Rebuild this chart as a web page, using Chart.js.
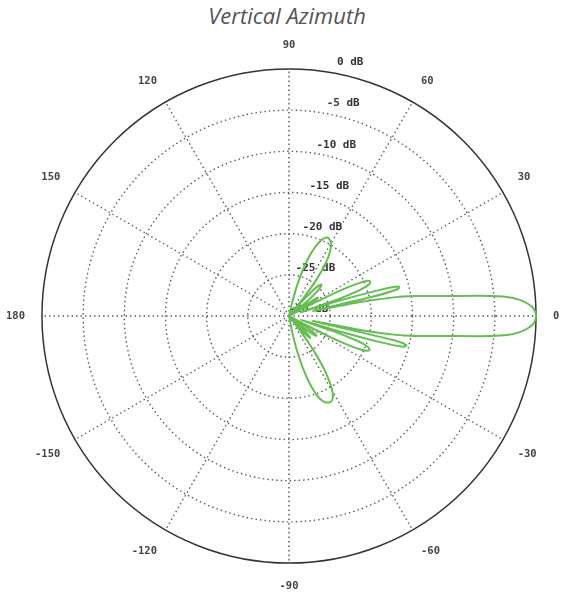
<!DOCTYPE html>
<html>
<head>
<meta charset="utf-8">
<title>Vertical Azimuth</title>
<script src="https://cdn.jsdelivr.net/npm/chart.js@4.4.1/dist/chart.umd.min.js"></script>
<style>
  html, body { margin: 0; padding: 0; background: #fff; }
  #grafico-titulo {
    height: 31px; line-height: 31px;
    padding-left: 8px; box-sizing: border-box;
    font-family: 'Open Sans', sans-serif; font-style: italic; font-size: 22px;
    color: #555; text-align: center;
  }
  #wrap { width: 566px; height: 572px; }
</style>
</head>
<body>
<div id="grafico-titulo">Vertical Azimuth</div>
<div id="wrap"><canvas id="grafico" width="566" height="572"></canvas></div>
<script>
// === DADOS ===
// ângulo em graus (0 = direita, sentido anti-horário), um ponto por grau
const angulos = Array.from({ length: 360 }, (_, i) => i);

// ganho em dB para cada ângulo de 0 a 359
const ganhoDb = [
  // 0-9: lóbulo principal
  0, -0.1, -0.4, -1.0, -1.9, -3.4, -6.6, -10.1, -12.6, -14.5,
  // 10-19
  -16.8, -21, -27, -19.5, -16.3, -16.2, -18.5, -24, -28.5, -23.5,
  // 20-29
  -21, -19.9, -19.4, -19.3, -19.5, -20.4, -22, -24.6, -28, -30,
  // 30-39
  -28, -26.5, -25.8, -26.3, -28, -30, -30, -30, -29, -27.5,
  // 40-49
  -26.3, -25.5, -25, -24.7, -24.5, -24.6, -25, -25.8, -27.2, -29,
  // 50-59
  -30, -28, -26, -24.5, -23.3, -22.4, -21.6, -21, -20.5, -20.1,
  // 60-69
  -19.8, -19.6, -19.5, -19.4, -19.4, -19.5, -19.7, -20, -20.4, -20.9,
  // 70-79
  -21.5, -22.2, -23, -23.9, -24.9, -26, -27.2, -28.5, -30, -30,
  // 80-89
  -30, -30, -30, -30, -30, -30, -30, -30, -30, -30,
  // 90-179: parte de trás
  -30, -30, -30, -30, -30, -30, -30, -30, -30, -30,
  -30, -30, -30, -30, -30, -30, -30, -30, -30, -30,
  -30, -30, -30, -30, -30, -30, -30, -30, -30, -30,
  -30, -30, -30, -30, -30, -30, -30, -30, -30, -30,
  -30, -30, -30, -30, -30, -30, -30, -30, -30, -30,
  -30, -30, -30, -30, -30, -30, -30, -30, -30, -30,
  -30, -30, -30, -30, -30, -30, -30, -30, -30, -30,
  -30, -30, -30, -30, -30, -30, -30, -30, -30, -30,
  -30, -30, -30, -30, -30, -30, -30, -30, -30, -30,
  // 180-269
  -30, -30, -30, -30, -30, -30, -30, -30, -30, -30,
  -30, -30, -30, -30, -30, -30, -30, -30, -30, -30,
  -30, -30, -30, -30, -30, -30, -30, -30, -30, -30,
  -30, -30, -30, -30, -30, -30, -30, -30, -30, -30,
  -30, -30, -30, -30, -30, -30, -30, -30, -30, -30,
  -30, -30, -30, -30, -30, -30, -30, -30, -30, -30,
  -30, -30, -30, -30, -30, -30, -30, -30, -30, -30,
  -30, -30, -30, -30, -30, -30, -30, -30, -30, -30,
  -30, -30, -30, -30, -30, -30, -30, -30, -30, -30,
  // 270-279
  -30, -30, -30, -30, -30, -30, -30, -30, -30, -30,
  // 280-289
  -30, -28.5, -27, -25.7, -24.5, -23.4, -22.4, -21.5, -20.7, -20,
  // 290-299
  -19.5, -19.1, -18.8, -18.6, -18.5, -18.4, -18.4, -18.5, -18.7, -19,
  // 300-309
  -19.5, -20.1, -20.9, -21.8, -22.9, -24.2, -25.7, -27.4, -29.3, -30,
  // 310-319
  -29, -27.8, -27, -26.5, -26.3, -26.5, -27.2, -28.5, -30, -30,
  // 320-329
  -29, -27.6, -26.7, -26.1, -25.9, -26, -26.4, -27.3, -28.8, -30,
  // 330-339
  -30, -30, -27.8, -24.3, -21.8, -20.3, -19.6, -19.4, -19.5, -20,
  // 340-349
  -21.2, -24, -28.5, -24, -18.5, -15.6, -15.3, -17, -27, -21,
  // 350-359
  -16.8, -14.5, -12.6, -10.1, -6.6, -3.4, -1.9, -1.0, -0.4, -0.1
];

// rótulos dos anéis (dB) e dos raios (graus)
const rotulosDb = [0, -5, -10, -15, -20, -25, -30];
const rotulosAngulo = [0, 30, 60, 90, 120, 150, 180, -150, -120, -90, -60, -30];

// O radar do Chart.js gira no sentido horário: índice k = ângulo -k
const ordem = angulos.map(k => (360 - k) % 360);

// === RÓTULOS DE dB AO LONGO DO EIXO ===
const pluginRotulosDb = {
  id: 'rotulosDb',
  beforeDatasetsDraw(chart) {
    const escala = chart.scales.r;
    const ctx = chart.ctx;
    ctx.save();
    ctx.font = 'bold 11px "DejaVu Sans Mono", monospace';
    ctx.fillStyle = '#333';
    ctx.textAlign = 'center';
    ctx.textBaseline = 'middle';
    rotulosDb.forEach(v => {
      const r = escala.getDistanceFromCenterForValue(v);
      ctx.fillText(v + ' dB', escala.xCenter + 19.5 + r * 0.1685, escala.yCenter - r - 6.5);
    });
    ctx.restore();
  }
};

new Chart(document.getElementById('grafico'), {
  type: 'radar',
  data: {
    labels: ordem,
    datasets: [{
      data: ordem.map(a => ganhoDb[a]),
      borderColor: '#66bd52',
      borderWidth: 2,
      pointRadius: 0,
      fill: false,
      tension: 0.25
    }]
  },
  options: {
    responsive: false,
    animation: false,
    plugins: { legend: { display: false }, tooltip: { enabled: false } },
    scales: {
      r: {
        min: -30,
        max: 0,
        startAngle: 90,
        ticks: { stepSize: 5, display: false },
        grid: {
          circular: true,
          color: ctx => ctx.tick.value === 0 ? '#333' : '#555',
          lineWidth: ctx => ctx.tick.value === 0 ? 1.5 : 1.4
        },
        border: {
          dash: ctx => (ctx.tick && ctx.tick.value === 0) ? [] : [1.4, 3.1]
        },
        angleLines: {
          color: '#555',
          lineWidth: ctx => ctx.index % 30 === 0 ? 1.4 : 0,
          borderDash: [1.4, 3.1]
        },
        pointLabels: {
          padding: 17,
          color: '#444',
          font: { family: 'DejaVu Sans Mono', size: 10.5, weight: 'bold' },
          callback: a => {
            if (a % 30 !== 0) return '';
            const v = a > 180 ? a - 360 : a;
            return rotulosAngulo.includes(v) ? String(v) : '';
          }
        }
      }
    }
  },
  plugins: [pluginRotulosDb]
});
</script>
</body>
</html>
